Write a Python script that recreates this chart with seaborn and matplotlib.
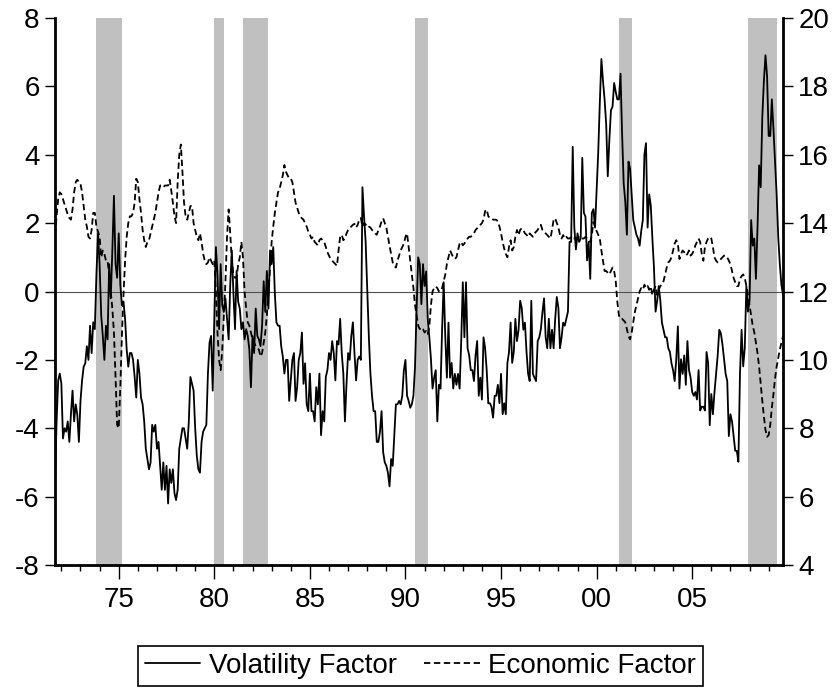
import numpy as np
import pandas as pd
import seaborn as sns
import matplotlib
matplotlib.use("Agg")
import matplotlib.pyplot as plt

# monthly observations, Sep 1971 - Oct 2009
start_month = "1971-09"
end_month = "2009-10"

# volatility factor (left axis), one row per year
volatility = [
    -5.6, -3.8, -2.6, -2.4,
    -2.7, -4.3, -4.0, -4.1, -3.8, -4.4, -3.6, -2.9, -3.8, -3.3, -3.6, -4.4,
    -3.2, -2.6, -2.2, -2.1, -1.6, -2.0, -1.0, -1.8, -0.9, -1.1, 0.5, 1.7,
    0.8, -0.7, -1.3, -2.0, -1.0, -1.4, 0.8, -0.2, 1.2, 2.8, 0.8, 0.4,
    1.7, 0.2, -0.4, -0.3, -0.8, -1.7, -2.2, -1.8, -1.8, -2.0, -2.5, -3.1,
    -2.0, -2.4, -3.1, -3.3, -3.8, -4.6, -4.9, -5.2, -5.0, -3.9, -4.1, -3.9,
    -4.6, -4.4, -5.1, -5.8, -5.0, -5.8, -5.1, -6.2, -5.2, -5.6, -5.2, -5.9,
    -6.1, -5.8, -4.6, -4.3, -4.0, -4.0, -4.3, -4.6, -3.8, -2.5, -2.7, -2.9,
    -4.0, -4.8, -5.2, -5.3, -4.4, -4.1, -4.0, -3.9, -2.4, -1.5, -1.3, -2.9,
    -0.8, 1.3, 0.5, -1.1, 0.8, -0.4, -0.6, -0.2, -0.8, -1.4, 0.2, 1.2,
    -0.05, -1.1, 0.6, -0.3, -0.5, -1.1, -0.9, -1.4, -1.1, -1.3, -1.7, -2.8,
    -1.3, -1.8, -0.5, -1.3, -1.4, -1.6, -1.0, 0.3, -0.6, 0.6, -0.5, 1.2,
    0.8, 1.3, -0.05, -0.9, -1.0, -1.0, -1.6, -1.9, -2.4, -2.0, -2.0, -3.2,
    -2.6, -2.0, -1.8, -3.2, -2.8, -2.0, -1.8, -1.2, -2.7, -2.1, -3.3, -3.5,
    -2.4, -3.5, -3.5, -3.8, -2.8, -3.3, -2.4, -4.2, -3.5, -3.8, -2.5, -2.3,
    -1.8, -2.0, -1.45, -1.8, -2.6, -1.45, -1.55, -0.8, -1.8, -2.4, -3.8, -2.7,
    -1.8, -2.0, -1.3, -0.9, -1.8, -2.6, -2.0, -1.9, -2.0, 3.05, 2.2, 1.45,
    0.05, -1.3, -2.4, -3.05, -3.5, -3.5, -4.4, -4.4, -4.1, -3.5, -4.7, -5.0,
    -5.1, -5.3, -5.7, -4.9, -5.1, -4.2, -3.3, -3.3, -3.2, -3.3, -3.05, -2.3,
    -2.0, -3.05, -3.2, -3.4, -3.3, -3.05, -2.2, -0.5, 1.0, 0.8, -0.37, 0.8,
    0.16, 0.59, -0.8, -1.34, -1.98, -2.84, -2.52, -2.30, -3.80, -2.73, -2.84, -1.12,
    0.27, -1.34, -2.52, -0.91, -2.52, -2.09, -2.84, -2.41, -2.73, -2.41, -2.84, -1.45,
    0.27, -1.34, 0.27, -1.66, -1.87, -2.30, -2.30, -2.62, -1.87, -1.45, -3.05, -2.52,
    -3.16, -1.34, -1.66, -2.30, -3.27, -3.27, -3.37, -3.69, -3.05, -3.05, -2.73, -3.27,
    -2.41, -3.59, -3.27, -3.59, -2.09, -1.77, -0.91, -2.09, -1.77, -0.80, -1.45, -1.12,
    -0.27, -0.48, -1.12, -0.91, -1.77, -2.41, -2.62, -0.27, -2.41, -2.52, -2.62, -1.45,
    -1.34, -1.1, -0.6, -0.2, -1.34, -1.66, -0.80, -1.66, -1.12, -1.66, -0.80, -0.16,
    -0.48, -1.66, -1.34, -0.91, -1.0, -0.80, -0.59, 1.45, 1.45, 4.23, 1.87, 1.23,
    1.7, 1.45, 1.55, 3.91, 2.30, 2.19, 0.91, 1.45, 0.37, 2.30, 2.41, 1.87,
    2.94, 4.06, 5.51, 6.80, 6.16, 5.62, 4.9, 3.37, 4.44, 5.30, 5.41, 6.1,
    5.84, 5.62, 5.62, 6.37, 4.6, 3.16, 2.62, 1.66, 3.80, 3.6, 2.84, 2.09,
    1.87, 1.66, 1.55, 1.34, 1.77, 2.09, 4.01, 4.34, 1.87, 2.84, 2.52, 1.55,
    0.7, -0.59, -0.27, 0.16, -0.27, -0.91, -1.12, -1.34, -1.34, -1.66, -1.77, -2.1,
    -2.3, -2.62, -1.98, -1.02, -2.84, -1.98, -2.41, -1.87, -2.73, -1.45, -2.30, -2.52,
    -2.94, -3.05, -2.94, -3.16, -2.30, -3.48, -3.37, -3.37, -3.48, -1.77, -2.09, -3.91,
    -3.0, -3.59, -2.94, -2.41, -1.87, -1.12, -1.23, -1.55, -1.98, -2.41, -2.62, -4.23,
    -3.59, -3.80, -4.23, -4.66, -4.66, -4.98, -2.41, -1.12, -2.19, -1.66, 0.16, -0.59,
    -0.27, 2.09, 1.34, 1.55, 0.37, 1.87, 3.69, 3.05, 5.09, 6.16, 6.91, 6.3,
    4.55, 4.55, 5.62, 4.76, 3.80, 2.84, 1.6, 0.8, 0.2, -0.1,
]

# economic factor (right axis)
economic = [
    13.66, 14.2, 14.7, 14.9,
    14.85, 14.7, 14.55, 14.4, 14.25, 14.15, 14.1, 14.4, 14.9, 15.2, 15.27, 15.2,
    15.15, 14.9, 14.5, 14.1, 13.9, 13.6, 13.55, 13.8, 14.3, 14.3, 13.9, 13.75,
    13.6, 13.0, 13.2, 13.1, 12.9, 12.9, 12.5, 12.0, 11.5, 10.8, 9.5, 8.1,
    8.0, 9.2, 10.7, 11.9, 12.9, 13.6, 14.0, 14.2, 14.2, 14.3, 14.6, 15.3,
    15.2, 14.7, 14.3, 13.8, 13.5, 13.3, 13.45, 13.5, 13.7, 13.9, 14.1, 14.3,
    14.6, 14.9, 15.1, 15.1, 15.05, 15.1, 15.1, 15.1, 15.27, 14.95, 14.6, 14.2,
    14.0, 15.2, 16.0, 16.3, 15.5, 14.6, 14.2, 14.1, 14.3, 14.5, 14.5, 14.0,
    13.8, 13.6, 13.5, 13.7, 13.45, 13.1, 12.9, 12.8, 12.85, 13.0, 12.9, 12.8,
    12.9, 12.0, 10.8, 10.0, 9.7, 10.3, 11.3, 12.3, 13.6, 14.4, 13.7, 12.9,
    12.5, 12.4, 12.4, 12.8, 13.0, 13.45, 13.0, 12.0, 11.5, 11.1, 11.0, 10.8,
    10.6, 10.5, 10.4, 10.35, 10.3, 10.1, 10.2, 10.5, 10.8, 11.3, 12.0, 12.7,
    13.45, 13.9, 14.3, 14.6, 14.9, 15.0, 15.2, 15.4, 15.7, 15.5, 15.4, 15.3,
    15.3, 15.2, 14.9, 14.6, 14.45, 14.3, 14.2, 14.14, 14.1, 14.0, 13.9, 13.75,
    13.66, 13.55, 13.6, 13.45, 13.4, 13.35, 13.5, 13.55, 13.5, 13.45, 13.3, 13.15,
    13.05, 12.95, 12.9, 12.85, 12.8, 12.75, 13.2, 13.6, 13.66, 13.5, 13.55, 13.7,
    13.8, 13.87, 13.9, 13.95, 13.98, 13.87, 13.95, 14.1, 14.15, 13.9, 14.0, 13.95,
    13.98, 13.9, 13.87, 13.8, 13.77, 13.7, 13.66, 13.8, 13.9, 14.05, 14.14, 14.0,
    13.87, 13.6, 13.34, 13.1, 12.85, 12.75, 12.7, 12.9, 13.05, 13.2, 13.3, 13.4,
    13.6, 13.7, 13.3, 12.9, 12.5, 12.1, 11.6, 11.3, 11.0, 10.9, 10.95, 10.9,
    10.8, 10.85, 10.75, 11.0, 11.6, 12.0, 12.1, 12.15, 12.1, 12.0, 12.0, 12.1,
    12.3, 12.5, 12.8, 13.0, 13.2, 13.1, 13.0, 12.95, 13.0, 13.2, 13.4, 13.45,
    13.35, 13.4, 13.5, 13.55, 13.6, 13.6, 13.65, 13.7, 13.8, 13.85, 13.9, 13.95,
    14.0, 14.1, 14.35, 14.4, 14.2, 14.15, 14.15, 14.1, 14.1, 14.1, 14.05, 13.9,
    13.7, 13.45, 13.25, 13.1, 13.0, 13.3, 13.5, 13.2, 13.3, 13.6, 13.8, 13.65,
    13.8, 13.85, 13.8, 13.7, 13.66, 13.6, 13.7, 13.65, 13.6, 13.7, 13.75, 13.8,
    13.9, 13.95, 13.8, 13.75, 13.7, 13.65, 13.6, 13.55, 13.8, 14.1, 14.14, 14.0,
    13.87, 13.66, 13.55, 13.65, 13.55, 13.6, 13.55, 13.55, 13.6, 13.55, 13.55, 13.55,
    13.55, 13.6, 13.55, 13.55, 13.55, 13.6, 13.55, 13.5, 13.45, 13.66, 14.03, 13.9,
    13.77, 13.66, 13.55, 13.2, 12.9, 12.6, 12.6, 12.55, 12.5, 12.6, 12.7, 12.6,
    12.3, 11.7, 11.3, 11.2, 11.2, 11.15, 11.1, 10.9, 10.7, 10.6, 10.8, 11.1,
    11.4, 11.6, 11.8, 12.0, 12.1, 12.05, 12.2, 12.1, 12.16, 12.05, 12.15, 11.9,
    12.05, 12.16, 11.9, 12.05, 12.16, 12.2, 12.3, 12.5, 12.7, 12.85, 12.9, 13.0,
    13.2, 13.4, 13.5, 13.4, 12.95, 13.1, 13.2, 13.15, 13.05, 13.1, 13.2, 13.05,
    13.1, 13.2, 13.35, 13.45, 13.55, 13.45, 13.1, 12.9, 13.3, 13.45, 13.55, 13.6,
    13.55, 13.3, 13.0, 12.9, 12.85, 12.9, 12.95, 13.0, 13.05, 13.05, 13.0, 12.9,
    12.8, 12.6, 12.4, 12.27, 12.16, 12.16, 12.37, 12.45, 12.5, 12.4, 12.16, 11.9,
    11.6, 11.3, 11.0, 10.8, 10.5, 10.2, 9.8, 9.3, 8.8, 8.35, 7.95, 7.75,
    7.8, 8.1, 8.6, 9.0, 9.45, 9.8, 10.05, 10.3, 10.5, 10.7,
]

# NBER recessions (first and last month shaded)
recession_start = ["1973-11", "1980-01", "1981-07", "1990-07", "2001-03", "2007-12"]
recession_end = ["1975-03", "1980-07", "1982-11", "1991-03", "2001-11", "2009-06"]

year_ticks = [1975, 1980, 1985, 1990, 1995, 2000, 2005]
year_labels = ["75", "80", "85", "90", "95", "00", "05"]


def decimal_year(stamp):
    stamp = pd.Timestamp(stamp)
    return stamp.year + (stamp.month - 1) / 12.0


dates = pd.date_range(start_month, end_month, freq="MS")
assert len(dates) == len(volatility) == len(economic)
df = pd.DataFrame({
    "year": dates.year + (dates.month - 1) / 12.0,
    "Volatility Factor": volatility,
    "Economic Factor": economic,
})

sns.set_style("white")
plt.rcParams["font.family"] = ["Liberation Sans", "DejaVu Sans"]
plt.rcParams["axes.unicode_minus"] = False
plt.rcParams["text.color"] = "black"
fs = 20

fig = plt.figure(figsize=(8.39, 6.9), dpi=100)
ax = fig.add_axes([55 / 839, 1 - 565 / 690, 728 / 839, 547 / 690])
ax2 = ax.twinx()

for s, e in zip(recession_start, recession_end):
    ax.axvspan(decimal_year(s), decimal_year(e), color="#c0c0c0", lw=0, zorder=0)
ax.axhline(0, color="#505050", lw=0.8, zorder=1)

sns.lineplot(data=df, x="year", y="Volatility Factor", ax=ax,
             color="black", lw=1.3, label="Volatility Factor", legend=False)
sns.lineplot(data=df, x="year", y="Economic Factor", ax=ax2,
             color="black", lw=1.3, label="Economic Factor", legend=False)
ax2.lines[0].set_dashes((3.5, 2))

ax.set_xlim(df["year"].iloc[0], df["year"].iloc[-1])
ax.set_ylim(-8, 8)
ax2.set_ylim(4, 20)
ax.set_yticks(np.arange(-8, 9, 2))
ax2.set_yticks(np.arange(4, 21, 2))
ax.set_xticks(year_ticks)
ax.set_xticklabels(year_labels)
ax.set_xticks(np.arange(1972, 2010), minor=True)
ax.set_xlabel("")
ax.set_ylabel("")
ax2.set_ylabel("")

ax.tick_params(axis="x", which="major", direction="out", length=10, width=1,
               labelsize=fs, pad=6, bottom=True, colors="black")
ax.tick_params(axis="x", which="minor", direction="out", length=4.5, width=1,
               bottom=True, colors="black")
ax.tick_params(axis="y", direction="out", length=7, width=1, labelsize=fs,
               pad=4, left=True, colors="black")
ax2.tick_params(axis="y", direction="out", length=7, width=1, labelsize=fs,
                pad=4, right=True, colors="black")

for a in (ax, ax2):
    a.spines["top"].set_visible(False)
ax.spines["right"].set_visible(False)
ax2.spines["left"].set_visible(False)
ax2.spines["bottom"].set_visible(False)
ax.spines["left"].set_linewidth(2)
ax.spines["bottom"].set_linewidth(2)
ax2.spines["right"].set_linewidth(2)
for sp in ("left", "bottom"):
    ax.spines[sp].set_color("black")
ax2.spines["right"].set_color("black")

handles = ax.get_lines()[1:2] + ax2.get_lines()[:1]
leg = fig.legend(handles, ["Volatility Factor", "Economic Factor"],
                 loc="lower center", bbox_to_anchor=(0.501, 0.006), ncol=2,
                 fontsize=fs, frameon=True, fancybox=False, framealpha=1,
                 edgecolor="black", borderpad=0.25, handlelength=2.0,
                 handletextpad=0.3, columnspacing=1.0, borderaxespad=0)
leg.get_frame().set_linewidth(1.2)
for t in leg.get_texts():
    t.set_color("black")

fig.savefig("out.png", dpi=100)
